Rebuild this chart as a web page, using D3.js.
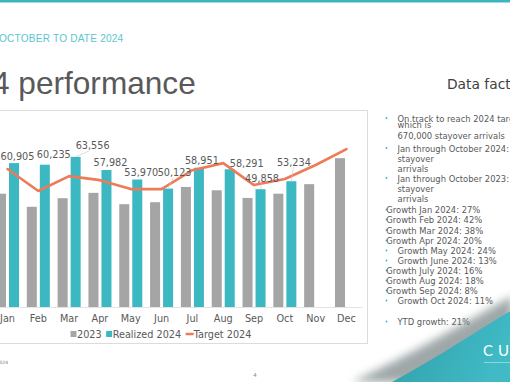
<!DOCTYPE html>
<html><head><meta charset="utf-8">
<script src="https://cdn.jsdelivr.net/npm/d3@7"></script>
<style>
html,body{margin:0;padding:0;background:#fff;overflow:hidden;}
svg{display:block;}
</style></head>
<body>
<svg id="c" width="510" height="382"></svg>
<script>
const months = ["Jan","Feb","Mar","Apr","May","Jun","Jul","Aug","Sep","Oct","Nov","Dec"];
const arrivals2023 = [47960, 42420, 46060, 48320, 43520, 44360, 50820, 49400, 46170, 47960, 52000, 63000];
const realized2024 = [60905, 60235, 63556, 57982, 53970, 50123, 58951, 58291, 49858, 53234, null, null];
const target2024 = [58400, 49100, 55400, 53700, 49900, 49900, 57900, 60900, 51600, 54200, 60100, 66800];
const seriesNames = ["2023", "Realized 2024", "Target 2024"];
const factLines = [
  {b:true,  t:"On track to reach 2024 target"},
  {b:false, t:"which is"},
  {b:false, t:"670,000 stayover arrivals"},
  {b:true,  t:"Jan through October 2024:"},
  {b:false, t:"stayover"},
  {b:false, t:"arrivals"},
  {b:true,  t:"Jan through October 2023:"},
  {b:false, t:"stayover"},
  {b:false, t:"arrivals"}
];
const growthLines = [
  {b:false, t:"Growth Jan 2024: 27%"},
  {b:false, t:"Growth Feb 2024: 42%"},
  {b:false, t:"Growth Mar 2024: 38%"},
  {b:false, t:"Growth Apr 2024: 20%"},
  {b:true,  t:"Growth May 2024: 24%"},
  {b:true,  t:"Growth June 2024: 13%"},
  {b:false, t:"Growth July 2024: 16%"},
  {b:false, t:"Growth Aug 2024: 18%"},
  {b:false, t:"Growth Sep 2024: 8%"},
  {b:true,  t:"Growth Oct 2024: 11%"}
];
const ytdLine = "YTD growth: 21%";

// layout-only: label nudges (dx, dy from bar top) and leader-line flags
const labelNudge = [[3.5,-3.5],[9,-6.5],[17,-7.5],[4,-4.5],[4,-3.5],[6.5,-12.5],[3,-3.5],[17,-2.5],[1.5,-7.5],[2.5,-15.5]];
const leader = [false,false,true,false,false,true,false,false,true,true];

const svg = d3.select("#c");
const TEAL = "#3cb8c3", GRAY = "#a5a5a5", ORANGE = "#ed7b57", TXT = "#595959";

// top bar
svg.append("rect").attr("x",0).attr("y",0).attr("width",510).attr("height",2.5).attr("fill","#3bb5c0");

// subtitle and title
svg.append("text").attr("x",-1).attr("y",41.8).attr("font-family","Liberation Sans, Arial, sans-serif")
  .attr("font-size",10.1).attr("fill","#5cc6d0").attr("letter-spacing",0.2).text("OCTOBER TO DATE 2024");
svg.append("text").attr("x",-8).attr("y",94).attr("font-family","Liberation Sans, Arial, sans-serif")
  .attr("font-size",31.6).attr("fill","#595959").text("4 performance");

// chart frame
svg.append("rect").attr("x",-2).attr("y",110.5).attr("width",369.5).attr("height",233)
  .attr("fill","#fff").attr("stroke","#dcdcdc").attr("stroke-width",1);

// scales
const x = d3.scaleBand().domain(months).range([-7.9, 361.9]).padding(0);
const x1 = d3.scaleBand().domain(seriesNames.slice(0,2)).range([0, x.bandwidth()]).paddingInner(0.23).paddingOuter(0.3);
const y = d3.scaleLinear().domain([0, 80000]).range([307, 118]);

const g = svg.append("g");

// axis
const ax = g.append("g").attr("transform","translate(0,307)").call(d3.axisBottom(x).tickSize(0).tickPadding(8));
ax.select(".domain").attr("stroke","#e3e3e3").attr("stroke-width",1);
ax.selectAll("text").attr("font-family","DejaVu Sans, sans-serif").attr("font-size",9.7).attr("fill",TXT);

// bars
const grp = g.selectAll("g.m").data(months).join("g").attr("class","m")
  .attr("transform", d => `translate(${x(d)},0)`);
grp.append("rect").attr("x", x1("2023")).attr("width", x1.bandwidth())
  .attr("y", (d,i) => y(arrivals2023[i])).attr("height", (d,i) => y(0) - y(arrivals2023[i])).attr("fill", GRAY);
grp.filter((d,i) => realized2024[i] != null).append("rect")
  .attr("x", x1("Realized 2024")).attr("width", x1.bandwidth())
  .attr("y", (d,i) => y(realized2024[months.indexOf(d)]))
  .attr("height", d => y(0) - y(realized2024[months.indexOf(d)])).attr("fill", TEAL);

// target line
const line = d3.line().x((d,i) => x(months[i]) + x.bandwidth()/2).y(d => y(d));
g.append("path").datum(target2024).attr("d", line).attr("fill","none")
  .attr("stroke", ORANGE).attr("stroke-width",2.6).attr("stroke-linejoin","round").attr("stroke-linecap","round");

// data labels
const fmt = d3.format(",");
realized2024.forEach((v,i) => {
  if (v == null) return;
  const bx = x(months[i]) + x1("Realized 2024") + x1.bandwidth()/2;
  const by = y(v);
  const lx = bx + labelNudge[i][0], ly = by + labelNudge[i][1];
  if (leader[i]) {
    g.append("line").attr("x1", lx - (lx-bx)*0.2).attr("y1", ly + 1.5).attr("x2", bx).attr("y2", by)
      .attr("stroke","#c8c8c8").attr("stroke-width",0.6);
  }
  g.append("text").attr("x", lx).attr("y", ly).attr("text-anchor","middle")
    .attr("font-family","DejaVu Sans, sans-serif").attr("font-size",9.7).attr("fill",TXT).text(fmt(v));
});

// legend
const leg = svg.append("g").attr("transform","translate(70.5,334)");
let lxp = 0;
seriesNames.forEach((s,i) => {
  if (i < 2) {
    leg.append("rect").attr("x",lxp).attr("y",-3).attr("width",6).attr("height",6).attr("fill", i===0?GRAY:TEAL);
    lxp += 6.5;
  } else {
    leg.append("line").attr("x1",lxp).attr("x2",lxp+8).attr("y1",0).attr("y2",0).attr("stroke",ORANGE).attr("stroke-width",2.5);
    lxp += 8;
  }
  const t = leg.append("text").attr("x",lxp).attr("y",3.5).attr("font-family","DejaVu Sans, sans-serif")
    .attr("font-size",9.7).attr("fill",TXT).text(s);
  lxp += t.node().getComputedTextLength() + 4.5;
});

// right panel
svg.append("text").attr("x",447).attr("y",89).attr("font-family","DejaVu Sans, sans-serif")
  .attr("font-size",13.8).attr("fill","#404040").text("Data facts");

const rp = svg.append("g").attr("font-family","DejaVu Sans, sans-serif").attr("font-size",8.4).attr("fill",TXT);
const factY = [122, 127.5, 139, 152, 162, 172, 182, 192, 202];
factLines.forEach((l,i) => {
  if (l.b) rp.append("circle").attr("cx",386.5).attr("cy",factY[i]-4).attr("r",0.9).attr("fill",TEAL);
  rp.append("text").attr("x",397.5).attr("y",factY[i]).text(l.t);
});
const gY = [213, 223, 233.5, 244, 254, 264, 274, 284, 294, 304];
growthLines.forEach((l,i) => {
  rp.append("circle").attr("cx",386.5).attr("cy",gY[i]-3.5).attr("r",0.9).attr("fill",TEAL);
  rp.append("text").attr("x", l.b ? 397.5 : 386.3).attr("y",gY[i]).text(l.t);
});
rp.append("circle").attr("cx",386.5).attr("cy",321.5).attr("r",0.9).attr("fill",TEAL);
rp.append("text").attr("x",397.5).attr("y",325).text(ytdLine);

// decorative corner
const defs = svg.append("defs");
const tg = defs.append("linearGradient").attr("id","tl").attr("x1","0").attr("y1","0").attr("x2","1").attr("y2","0.3");
tg.append("stop").attr("offset","0").attr("stop-color","#2f9ea8");
tg.append("stop").attr("offset","1").attr("stop-color","#40bac5");
const blur = defs.append("filter").attr("id","bl").attr("x","-20%").attr("y","-20%").attr("width","140%").attr("height","140%");
blur.append("feGaussianBlur").attr("stdDeviation",4);
svg.append("path").attr("d","M352 382 C 410 355, 460 325, 512 296 L 512 382 Z").attr("fill","#7f8a8c").attr("opacity",0.75).attr("filter","url(#bl)");
svg.append("path").attr("d","M392 382 C 440 356, 478 330, 512 310 L 512 382 Z").attr("fill","url(#tl)");
svg.append("text").attr("x",483).attr("y",356).attr("font-family","Lato, sans-serif").attr("font-size",15)
  .attr("fill","#ffffff").attr("letter-spacing",5).text("CU");
svg.append("line").attr("x1",484).attr("x2",512).attr("y1",362.5).attr("y2",362.5).attr("stroke","#ffffff").attr("stroke-opacity",0.7).attr("stroke-width",0.6);

// footer
svg.append("text").attr("x",8).attr("y",364).attr("text-anchor","end").attr("font-family","DejaVu Sans, sans-serif")
  .attr("font-size",4.5).attr("fill","#777").text("2024");
svg.append("text").attr("x",255).attr("y",377).attr("text-anchor","middle").attr("font-family","DejaVu Sans, sans-serif")
  .attr("font-size",5.5).attr("fill","#888").text("4");
</script>
</body></html>
